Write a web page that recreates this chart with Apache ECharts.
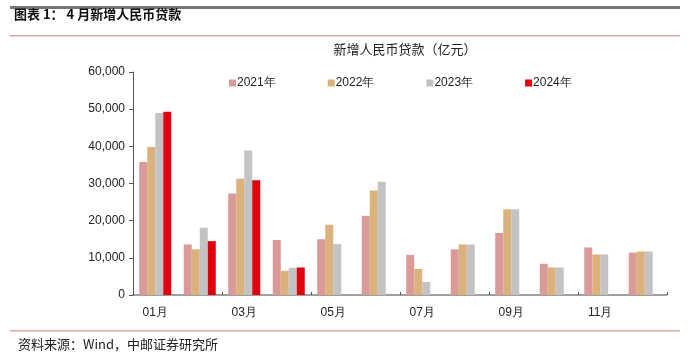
<!DOCTYPE html>
<html><head><meta charset="utf-8">
<script src="https://cdn.jsdelivr.net/npm/echarts@6/dist/echarts.min.js"></script>
<style>html,body{margin:0;padding:0;background:#fff}#c{width:691px;height:360px}</style>
</head><body><div id="c"></div>
<script>
const categories = ['01月','02月','03月','04月','05月','06月','07月','08月','09月','10月','11月','12月'];
const y2021 = [35800,13600,27300,14800,15000,21300,10800,12300,16700,8400,12800,11400];
const y2022 = [39800,12300,31300,6500,18900,28100,7000,13600,23100,7400,10900,11700];
const y2023 = [49000,18100,38900,7300,13700,30500,3500,13600,23100,7400,10900,11700];
const y2024 = [49300,14500,30900,7400,null,null,null,null,null,null,null,null];
const seriesNames = ['2021年','2022年','2023年','2024年'];
const colors = ['#d99a98','#dbb27c','#c3c3c3','#e0000f'];
const chart = echarts.init(document.getElementById('c'));
const font = 'Liberation Sans, Arial, sans-serif';
const data = [y2021,y2022,y2023,y2024];
chart.setOption({
  animation:false,
  title:{text:'新增人民币贷款（亿元）',left:400,top:38,textAlign:'center',
    textStyle:{fontSize:13,fontWeight:'normal',color:'#222',fontFamily:'Noto Sans CJK SC'}},
  legend:{top:72,left:224,itemGap:52,itemWidth:7,itemHeight:7,icon:'rect',
    textStyle:{fontSize:12,color:'#222',fontFamily:font,padding:[0,0,0,-4]},data:seriesNames},
  grid:{left:133,right:24,top:72,bottom:65},
  xAxis:{type:'category',data:categories,
    axisLine:{lineStyle:{color:'#808080',width:1.5}},
    axisTick:{show:true,interval:1,length:3,inside:true,lineStyle:{color:'#555'}},
    axisLabel:{interval:1,margin:12,fontSize:12,color:'#222',fontFamily:font}},
  yAxis:{type:'value',min:0,max:60000,interval:10000,
    axisLine:{show:true,lineStyle:{color:'#555'}},
    axisTick:{show:true,length:4,lineStyle:{color:'#555'}},
    splitLine:{show:false},
    axisLabel:{fontSize:12,color:'#222',fontFamily:font,margin:8,
      formatter:v=>v.toLocaleString('en-US')}},
  series: seriesNames.map((n,i)=>({name:n,type:'bar',data:data[i],barWidth:8,barGap:'0%',
    itemStyle:{color:colors[i]}})),
  graphic:[
    {type:'rect',shape:{x:10,y:6,width:670,height:3},style:{fill:'#777'}},
    {type:'text',left:14,top:8,style:{text:'图表 1： 4 月新增人民币贷款',
      fill:'#111',font:'bold 13px "Noto Sans CJK SC"'}},
    {type:'rect',shape:{x:10,y:35,width:670,height:1.5},style:{fill:'#d9a9a6'}},
    {type:'rect',shape:{x:10,y:330,width:670,height:1.5},style:{fill:'#d9a9a6'}},
    {type:'text',left:18,top:338,style:{text:'资料来源：Wind，中邮证券研究所',
      fill:'#222',font:'13px "Noto Sans CJK SC"'}}
  ]
});
</script></body></html>
